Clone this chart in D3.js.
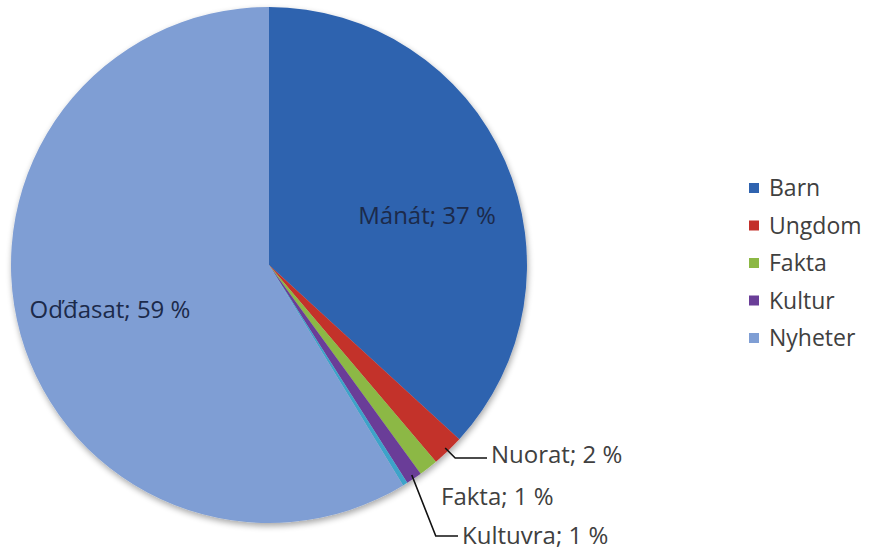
<!DOCTYPE html>
<html><head><meta charset="utf-8">
<script src="https://cdn.jsdelivr.net/npm/d3@7"></script>
<style>body{margin:0;background:#fff}svg{display:block}</style>
</head><body>
<svg id="c" width="872" height="552"></svg>
<script>
// Data
const categories = ["Barn", "Ungdom", "Fakta", "Kultur", "Andre", "Nyheter"];
const values = [36.8, 2.0, 1.2, 1.0, 0.3, 58.7];
const sliceLabels = ["Mánát; 37 %", "Nuorat; 2 %", "Fakta; 1 %", "Kultuvra; 1 %", "", "Oďđasat; 59 %"];
const legendItems = ["Barn", "Ungdom", "Fakta", "Kultur", "Nyheter"];
const colors = ["#2f63af", "#c3302b", "#8cb844", "#6a3e98", "#3ea3c9", "#7f9ed4"];

const svg = d3.select("#c");
const cx = 269, cy = 265, R = 258;
const defs = svg.append("defs");
const f = defs.append("filter").attr("id","sh").attr("x","-10%").attr("y","-10%").attr("width","120%").attr("height","120%");
f.append("feGaussianBlur").attr("in","SourceAlpha").attr("stdDeviation",3).attr("result","b");
f.append("feOffset").attr("in","b").attr("dx",1).attr("dy",3).attr("result","o");
f.append("feComponentTransfer").attr("in","o").attr("result","o2").append("feFuncA").attr("type","linear").attr("slope",0.35);
const m = f.append("feMerge"); m.append("feMergeNode").attr("in","o2"); m.append("feMergeNode").attr("in","SourceGraphic");

const color = d3.scaleOrdinal().domain(categories).range(colors);
const pie = d3.pie().sort(null).value(d => d.v);
const data = categories.map((c,i) => ({c, v: values[i], label: sliceLabels[i]}));
const arcs = pie(data);
const arc = d3.arc().innerRadius(0).outerRadius(R);

const g = svg.append("g").attr("transform", `translate(${cx},${cy})`);
g.append("g").attr("filter","url(#sh)").selectAll("path").data(arcs).join("path")
  .attr("d", arc).attr("fill", d => color(d.data.c));

// label layout (offsets relative to centre)
const labelPos = {
  "Barn":    {x: 158, y: -49, anchor: "middle", fill: "#1c2a4a"},
  "Ungdom":  {x: 222, y: 190, anchor: "start", fill: "#404040", leader: true},
  "Fakta":   {x: 172, y: 232, anchor: "start", fill: "#404040"},
  "Kultur":  {x: 193, y: 271, anchor: "start", fill: "#404040", leader: true},
  "Nyheter": {x: -159, y: 45, anchor: "middle", fill: "#1c2a4a"}
};
const outer = d3.arc().innerRadius(R-4).outerRadius(R-4);
arcs.forEach(a => {
  const p = labelPos[a.data.c]; if (!p) return;
  if (p.leader) {
    const [sx, sy] = outer.centroid(a);
    let pts;
    if (a.data.c === "Ungdom") pts = [[sx, sy], [sx+10, sy+10], [p.x-4, sy+10]];
    else pts = [[sx, sy], [sx+24, p.y], [p.x-4, p.y]];
    g.append("path").attr("d", d3.line()(pts)).attr("fill","none").attr("stroke","#111").attr("stroke-width",1.6);
  }
  g.append("text").attr("x", p.x).attr("y", p.y).attr("dy","0.35em")
    .attr("text-anchor", p.anchor).attr("fill", p.fill)
    .attr("font-family","'Open Sans', sans-serif").attr("font-size", 24)
    .text(a.data.label);
});

// Legend
const ly = d3.scalePoint().domain(legendItems).range([188, 338]);
const lg = svg.append("g");
legendItems.forEach(k => {
  lg.append("rect").attr("x", 749).attr("y", ly(k)-5).attr("width", 10).attr("height", 10).attr("fill", color(k));
  lg.append("text").attr("x", 769).attr("y", ly(k)).attr("dy","0.35em")
    .attr("fill","#404040").attr("font-family","'Open Sans', sans-serif").attr("font-size", 23).text(k);
});
</script>
</body></html>
